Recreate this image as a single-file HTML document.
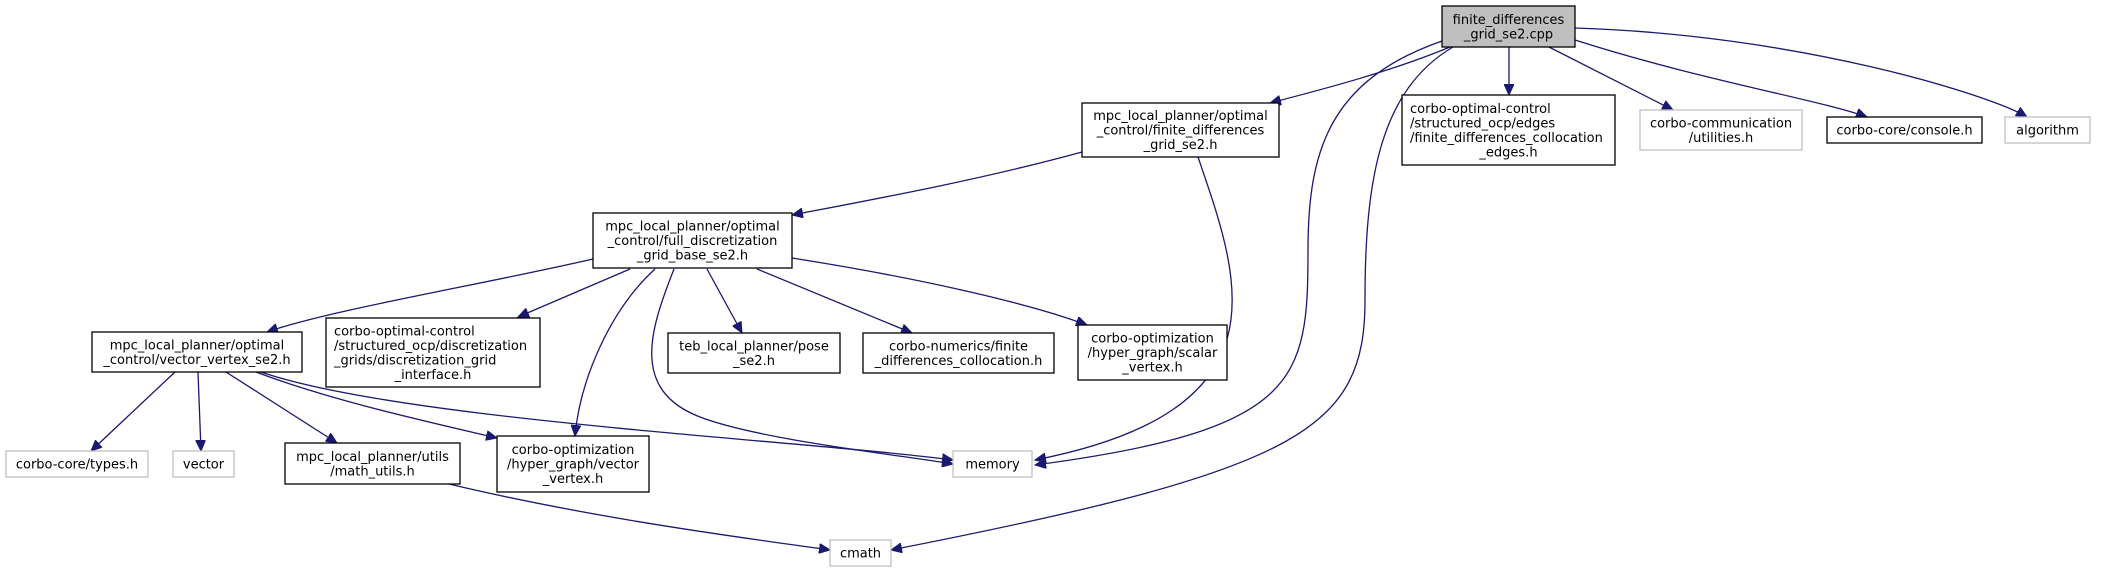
<!DOCTYPE html>
<html><head><meta charset="utf-8"><style>
html,body{margin:0;padding:0;background:#fff;}
svg{display:block;}
text{font-family:"DejaVu Sans","Liberation Sans",sans-serif;font-size:13px;fill:#000;}
.b{fill:#fff;stroke:#000;stroke-width:1.3;}
.g{fill:#fff;stroke:#bfbfbf;stroke-width:1.3;}
.e{fill:none;stroke:#191970;stroke-width:1.3;}
</style></head><body>
<svg width="2107" height="572" viewBox="0 0 2107 572" xmlns="http://www.w3.org/2000/svg">
<defs>
<marker id="a" markerUnits="userSpaceOnUse" markerWidth="12" markerHeight="10" refX="11" refY="5" orient="auto">
<path d="M0,0 L11,5 L0,10 Z" fill="#191970" stroke="#191970"/>
</marker>
</defs>
<g class="edges">
<path class="e" marker-end="url(#a)" d="M1450,47 C1390,72 1320,90 1270,103"/>
<path class="e" marker-end="url(#a)" d="M1509,47 L1509,95"/>
<path class="e" marker-end="url(#a)" d="M1549,47 L1673,110"/>
<path class="e" marker-end="url(#a)" d="M1575,40 C1700,80 1820,100 1867,117"/>
<path class="e" marker-end="url(#a)" d="M1575,28 C1800,35 1990,95 2027,117"/>
<path class="e" marker-end="url(#a)" d="M1442,41 C1330,80 1308,150 1308,250 C1308,380 1300,430 1035,465"/>
<path class="e" marker-end="url(#a)" d="M1453,47 C1380,90 1365,180 1365,300 C1365,430 1300,470 891,550"/>
<path class="e" marker-end="url(#a)" d="M1198,157 C1240,280 1290,410 1035,460"/>
<path class="e" marker-end="url(#a)" d="M1082,152 C980,180 870,200 792,215"/>
<path class="e" marker-end="url(#a)" d="M593,259 C480,285 330,310 267,332"/>
<path class="e" marker-end="url(#a)" d="M630,269 L518,317"/>
<path class="e" marker-end="url(#a)" d="M655,269 C610,310 580,380 575,436"/>
<path class="e" marker-end="url(#a)" d="M674,269 C650,330 630,390 700,417 C760,440 900,455 953,464"/>
<path class="e" marker-end="url(#a)" d="M707,269 L742,333"/>
<path class="e" marker-end="url(#a)" d="M757,269 L912,333"/>
<path class="e" marker-end="url(#a)" d="M792,258 C900,275 1020,300 1087,325"/>
<path class="e" marker-end="url(#a)" d="M175,372 L91,451"/>
<path class="e" marker-end="url(#a)" d="M198,372 L201,451"/>
<path class="e" marker-end="url(#a)" d="M226,372 L337,443"/>
<path class="e" marker-end="url(#a)" d="M256,372 C330,400 420,420 497,438"/>
<path class="e" marker-end="url(#a)" d="M261,372 C400,420 800,440 953,460"/>
<path class="e" marker-end="url(#a)" d="M449,484 C600,520 760,540 830,550"/>
</g>
<!-- root -->
<rect x="1442" y="6" width="133" height="41" fill="#bfbfbf" stroke="#000" stroke-width="1.3"/>
<text x="1508.5" y="23.75" text-anchor="middle">finite_differences</text>
<text x="1508.5" y="38.25" text-anchor="middle">_grid_se2.cpp</text>
<!-- A -->
<rect class="b" x="1082" y="103" width="197" height="54"/>
<text x="1180.5" y="120" text-anchor="middle">mpc_local_planner/optimal</text>
<text x="1180.5" y="134.5" text-anchor="middle">_control/finite_differences</text>
<text x="1180.5" y="149" text-anchor="middle">_grid_se2.h</text>
<!-- B -->
<rect class="b" x="1402" y="95" width="213" height="70"/>
<text x="1410" y="112.75">corbo-optimal-control</text>
<text x="1410" y="127.25">/structured_ocp/edges</text>
<text x="1410" y="141.75">/finite_differences_collocation</text>
<text x="1508.5" y="156.25" text-anchor="middle">_edges.h</text>
<!-- C -->
<rect class="g" x="1640" y="110" width="162" height="40"/>
<text x="1721" y="127.25" text-anchor="middle">corbo-communication</text>
<text x="1721" y="141.75" text-anchor="middle">/utilities.h</text>
<!-- D -->
<rect class="b" x="1827" y="117" width="155" height="26"/>
<text x="1904.5" y="134.5" text-anchor="middle">corbo-core/console.h</text>
<!-- E -->
<rect class="g" x="2005" y="117" width="85" height="26"/>
<text x="2047.5" y="134.5" text-anchor="middle">algorithm</text>
<!-- F -->
<rect class="b" x="593" y="213" width="199" height="55"/>
<text x="692.5" y="230.5" text-anchor="middle">mpc_local_planner/optimal</text>
<text x="692.5" y="245" text-anchor="middle">_control/full_discretization</text>
<text x="692.5" y="259.5" text-anchor="middle">_grid_base_se2.h</text>
<!-- G -->
<rect class="b" x="92" y="332" width="210" height="40"/>
<text x="197" y="349.25" text-anchor="middle">mpc_local_planner/optimal</text>
<text x="197" y="363.75" text-anchor="middle">_control/vector_vertex_se2.h</text>
<!-- H -->
<rect class="b" x="326" y="318" width="214" height="69"/>
<text x="334" y="335.25">corbo-optimal-control</text>
<text x="334" y="349.75">/structured_ocp/discretization</text>
<text x="334" y="364.25">_grids/discretization_grid</text>
<text x="433" y="378.75" text-anchor="middle">_interface.h</text>
<!-- I -->
<rect class="b" x="668" y="333" width="172" height="40"/>
<text x="754" y="350.25" text-anchor="middle">teb_local_planner/pose</text>
<text x="754" y="364.75" text-anchor="middle">_se2.h</text>
<!-- J -->
<rect class="b" x="863" y="333" width="191" height="40"/>
<text x="958.5" y="350.25" text-anchor="middle">corbo-numerics/finite</text>
<text x="958.5" y="364.75" text-anchor="middle">_differences_collocation.h</text>
<!-- K -->
<rect class="b" x="1078" y="325" width="149" height="55"/>
<text x="1152.5" y="342.5" text-anchor="middle">corbo-optimization</text>
<text x="1152.5" y="357" text-anchor="middle">/hyper_graph/scalar</text>
<text x="1152.5" y="371.5" text-anchor="middle">_vertex.h</text>
<!-- L -->
<rect class="g" x="6" y="451" width="142" height="26"/>
<text x="77" y="468.5" text-anchor="middle">corbo-core/types.h</text>
<!-- M -->
<rect class="g" x="173" y="451" width="61" height="26"/>
<text x="203.5" y="468.5" text-anchor="middle">vector</text>
<!-- N -->
<rect class="b" x="285" y="443" width="175" height="41"/>
<text x="372.5" y="460.75" text-anchor="middle">mpc_local_planner/utils</text>
<text x="372.5" y="475.25" text-anchor="middle">/math_utils.h</text>
<!-- O -->
<rect class="b" x="497" y="436" width="152" height="56"/>
<text x="573" y="454" text-anchor="middle">corbo-optimization</text>
<text x="573" y="468.5" text-anchor="middle">/hyper_graph/vector</text>
<text x="573" y="483" text-anchor="middle">_vertex.h</text>
<!-- P -->
<rect class="g" x="953" y="451" width="79" height="26"/>
<text x="992.5" y="468.5" text-anchor="middle">memory</text>
<!-- Q -->
<rect class="g" x="830" y="540" width="61" height="26"/>
<text x="860.5" y="557.5" text-anchor="middle">cmath</text>
</svg>
</body></html>
